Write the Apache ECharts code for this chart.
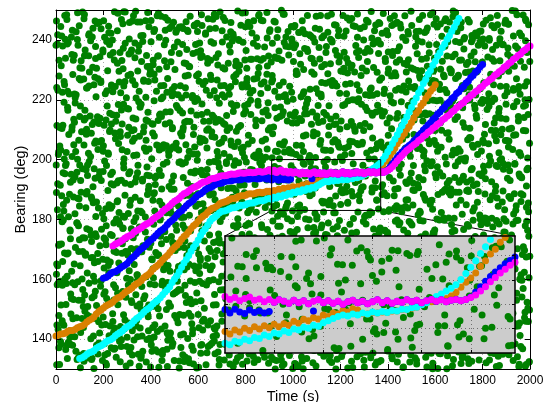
<!DOCTYPE html>
<html><head><meta charset="utf-8">
<script src="https://cdn.jsdelivr.net/npm/echarts@6/dist/echarts.min.js"></script>
<style>html,body{margin:0;padding:0;background:#fff}#c{width:546px;height:402px}</style>
</head><body><div id="c"></div>
<script>
// ---- tick labels / annotation values ----
const xTicks=[0,200,400,600,800,1000,1200,1400,1600,1800,2000];
const yTicks=[140,160,180,200,220,240];
const insetXTicks=[1000,1100,1200,1300,1400];
const insetYTicks=[190,195,200,205];
const zoomBoxX=[910,1370];
const zoomBoxY=[183,200];
const insetX=[900,1490];
const insetY=[185,209];

// ---- track sample times (s) ----
const tA=[0,10,20,30,40,50,60,70,80,90,100,110,120,130,140,150,160,170,180,190,200,210,220,230,240,250,260,270,280,290,300,310,320,330,340,350,360,370,380,390,400,410,420,430,440,450,460,470,480,490,500,510,520,530,540,550,560,570,580,590,600,610,620,630,640,650,660,670,680,690,700,710,720,730,740,750,760,770,780,790,800,810,820,830,840,850,860,870,880,890];
const tB=[900,910,920,930,940,950,960,970,980,990,1000,1010,1020,1030,1040,1050,1060,1070,1080,1090,1100,1110,1120,1130,1140,1150,1160,1170,1180,1190,1200,1210,1220,1230,1240,1250,1260,1270,1280,1290,1300,1310,1320,1330,1340,1350,1360,1370,1380,1390,1400,1410,1420,1430,1440,1450,1460,1470,1480,1490];
const tC=[1500,1510,1520,1530,1540,1550,1560,1570,1580,1590,1600,1610,1620,1630,1640,1650,1660,1670,1680,1690,1700,1710,1720,1730,1740,1750,1760,1770,1780,1790,1800,1810,1820,1830,1840,1850,1860,1870,1880,1890,1900,1910,1920,1930,1940,1950,1960,1970,1980,1990,2000];

// ---- track bearings (deg), aligned with tA / tB / tC ----
const orangeA=[141.0,141.4,141.7,141.8,142.0,142.6,142.9,142.9,143.2,143.8,144.1,144.4,144.9,145.7,146.3,146.7,147.4,148.4,149.2,149.7,150.4,151.1,151.5,151.9,152.4,153.2,153.8,154.1,154.7,155.5,156.1,156.5,157.1,157.9,158.5,158.9,159.6,160.5,161.1,161.6,162.4,163.4,164.1,164.7,165.5,166.5,167.3,167.9,168.9,169.9,170.7,171.4,172.3,173.4,174.3,175.0,175.9,177.0,177.9,178.5,179.4,180.4,181.1,181.6,182.4,183.2,183.7,184.0,184.5,185.2,185.6,185.8,186.1,186.6,186.9,187.0,187.2,187.7,187.9,187.9,188.1,188.5,188.6,188.5,188.7,189.0,189.1,188.9,189.1,189.4];
const orangeB=[189.4,188.9,189.7,189.3,190.1,189.6,190.4,189.9,190.6,190.2,190.9,190.4,191.0,190.7,191.5,191.1,191.9,191.6,192.3,192.0,192.8,192.5,193.2,193.0,193.7,193.4,194.1,193.8,193.1,193.0,193.3,193.2,193.4,193.3,193.6,193.6,193.9,193.9,194.2,194.4,195.0,195.3,195.5,195.7,195.9,196.2,196.7,197.4,198.5,199.5,200.4,201.4,202.8,203.9,205.3,206.3,207.7,208.7,210.1,211.1];
const orangeC=[212.4,213.8,215.4,216.4,218.0,218.9,220.4,221.5,222.8,223.8,225.0];

const cyanA=[null,null,null,null,null,null,null,null,null,null,133.5,133.8,134.3,134.9,135.4,135.7,136.1,136.9,137.4,137.8,138.3,139.0,139.5,139.8,140.3,141.1,141.7,142.1,142.7,143.5,144.1,144.5,145.2,146.1,146.9,147.4,148.1,149.0,149.7,150.2,150.9,151.8,152.5,153.1,153.8,154.8,155.7,156.5,157.5,158.9,160.1,161.2,162.5,164.0,165.4,166.6,167.9,169.4,170.7,171.8,173.1,174.6,175.9,176.9,178.1,179.4,180.3,180.8,181.5,182.2,182.7,182.8,183.1,183.5,183.8,183.9,184.1,184.5,184.7,184.7,184.9,185.3,185.5,185.5,185.7,186.1,186.2,186.2,186.4,186.8];
const cyanB=[187.0,186.7,187.4,187.2,187.8,187.5,188.2,188.0,188.7,188.4,189.1,188.9,189.5,189.2,189.9,189.7,190.3,190.1,190.7,190.5,191.2,191.6,192.1,192.5,192.8,192.6,193.0,192.8,193.2,193.0,193.4,193.2,193.5,193.3,193.7,193.6,194.0,193.9,194.3,194.4,194.9,195.3,195.9,196.6,197.1,197.7,198.3,199.0,200.1,201.3,202.6,203.9,205.4,206.8,208.3,209.8,211.3,212.8,214.3,215.9];
const cyanC=[217.5,219.2,220.6,222.3,223.6,225.4,226.8,228.5,229.8,231.5,232.9,234.5,235.7,237.4,238.6,240.2,241.4,242.9,244.2,245.8,247.2];

const blueA=[null,null,null,null,null,null,null,null,null,null,null,null,null,null,null,null,null,null,null,null,160.3,160.6,161.1,161.8,162.3,162.5,163.0,163.7,164.3,164.7,165.3,166.3,167.1,167.7,168.5,169.5,170.2,170.8,171.5,172.4,173.1,173.7,174.5,175.4,176.1,176.6,177.3,178.3,179.1,179.7,180.5,181.5,182.4,182.9,183.7,184.6,185.3,185.8,186.5,187.4,188.2,188.6,189.2,189.9,190.4,190.6,191.0,191.6,191.9,192.0,192.2,192.6,192.8,192.8,192.9,193.2,193.3,193.2,193.3,193.6,193.6,193.4,193.5,193.8,193.7,193.5,193.6,193.9,193.8,193.4];
const blueB=[193.9,193.2,194.0,193.4,193.1,193.8,193.3,193.6,193.2,193.5,195.4,195.9,195.6,195.2,195.8,195.3,195.7,195.1,193.6,195.9,195.3,195.7,195.2,195.6,195.0,195.5,195.8,195.3,195.6,195.1,195.5,195.9,195.3,195.7,195.2,195.6,195.4,195.9,195.5,195.8,195.3,195.7,196.0,195.6,195.9,195.5,195.8,196.0,195.7,196.0,196.5,197.5,198.6,199.7,200.7,201.6,202.5,203.3,204.0,204.7];
const blueC=[205.3,206.3,207.0,208.1,208.8,209.9,210.6,211.6,212.3,213.4,214.1,215.2,215.9,216.9,217.6,218.7,219.3,220.4,221.0,222.1,222.7,223.8,224.5,225.6,226.3,227.4,228.1,229.2,229.9,231.0,231.8];

const magentaA=[null,null,null,null,null,null,null,null,null,null,null,null,null,null,null,null,null,null,null,null,null,null,null,null,171.1,171.7,172.1,172.5,173.0,173.7,174.2,174.5,175.0,175.8,176.3,176.7,177.2,177.9,178.4,178.8,179.3,180.1,180.7,181.2,181.8,182.7,183.4,183.9,184.6,185.4,186.1,186.5,187.1,187.9,188.6,188.9,189.5,190.2,190.7,191.0,191.4,192.0,192.4,192.6,192.9,193.4,193.7,193.8,194.0,194.4,194.6,194.6,194.7,195.0,195.2,195.1,195.2,195.5,195.6,195.4,195.5,195.8,195.8,195.6,195.7,196.0,196.0,195.8,195.9,196.2];
const magentaB=[196.6,196.0,196.4,195.7,196.2,196.5,195.8,196.1,195.5,196.0,195.4,195.9,195.6,195.2,195.8,195.3,195.7,195.1,195.6,195.9,195.3,195.7,195.2,195.6,195.0,195.5,195.8,195.3,195.6,195.1,195.5,195.9,195.3,195.7,195.2,195.6,195.4,195.9,195.5,195.8,195.3,195.7,196.0,195.6,195.9,195.5,195.8,196.0,195.7,196.0,196.4,196.9,197.7,198.6,199.6,200.5,201.4,202.2,203.0,203.6];
const magentaC=[204.3,205.0,205.5,206.4,206.9,207.8,208.3,209.1,209.6,210.5,211.0,211.8,212.3,213.2,213.7,214.5,215.0,215.9,216.4,217.3,217.8,218.6,219.1,220.0,220.5,221.3,221.8,222.7,223.2,224.0,224.5,225.4,225.9,226.7,227.2,228.1,228.6,229.4,229.9,230.8,231.3,232.1,232.6,233.5,234.0,234.8,235.3,236.2,236.7,237.5,238.0];

// ---- clutter detections: flat list of (time s, bearing deg) pairs ----
const clutterXY=[
3,131.4,15,131.5,19,139.2,41,136.5,48,133.5,52,138.9,70,137.9,89,133.2,94,133.8,101,134.6,118,132.6,135,134.3,139,133.8,150,133.2,171,137.9,177,135.0,196,132.8,204,138.4,210,131.9,233,137.1,249,136.9,254,133.9,268,139.3,275,137.5,296,131.0,310,135.8,313,132.0,329,139.7,347,134.9,360,134.4,366,135.9,381,132.3,399,130.7,402,138.1,420,136.4,434,130.6,447,132.8,451,136.2,470,130.8,486,139.9,493,138.6,499,132.8,520,130.3,535,134.8,541,132.5,559,133.4,563,132.1,580,131.7,602,130.6,611,137.9,615,138.2,633,131.4,650,138.0,658,138.6,671,135.1,689,133.2,692,138.2,710,133.0,727,136.6,731,134.7,748,130.9,766,133.8,779,134.4,783,136.0,801,139.5,815,135.0,830,135.8,836,132.2,852,133.1,871,137.2,874,135.3,890,135.9,909,134.0,915,138.1,930,132.8,948,134.8,955,131.1,962,131.7,985,134.5,999,130.2,1004,138.4,1022,131.0,1039,132.7,1043,130.1,1061,139.3,1078,138.5,1084,132.1,1097,131.0,1115,135.5,1120,135.9,1140,136.4,1157,134.6,1163,132.2,1172,139.4,1190,138.9,1209,135.4,1214,139.3,1231,130.3,1240,138.1,1262,139.6,1270,134.1,1285,135.1,1299,132.9,1305,135.6,1326,135.3,1338,139.8,1344,139.7,1361,132.3,1379,138.3,1385,136.4,1400,136.2,1419,133.4,1426,138.3,1440,132.3,1459,139.7,1464,130.5,1478,138.2,1497,134.8,1503,139.1,1522,131.7,1536,139.6,1541,139.3,1560,133.9,1571,135.7,1589,130.1,1597,138.5,1611,130.2,1630,137.9,1637,139.4,1652,134.4,1670,139.5,1677,133.2,1690,137.0,1709,131.8,1716,134.6,1733,136.0,1750,138.2,1754,132.6,1772,138.0,1788,139.9,1793,136.8,1810,138.2,1829,133.0,1835,138.4,1848,135.2,1866,134.3,1871,131.2,1890,137.1,1904,136.0,1913,139.7,1929,132.8,1947,134.1,1953,130.8,1969,136.8,1984,131.5,1996,132.3,
9,143.2,12,147.9,30,145.0,58,142.8,63,148.4,66,141.9,87,147.1,110,146.9,116,143.9,122,149.3,145,147.5,158,141.0,180,145.8,184,142.0,187,149.7,209,144.9,228,144.4,240,145.9,243,142.3,267,140.7,285,148.1,291,146.4,300,140.6,322,142.8,340,146.2,344,140.8,359,149.9,386,148.6,390,142.8,395,140.3,417,144.8,428,142.5,444,143.4,469,142.1,472,141.7,478,140.6,501,147.9,522,148.2,526,141.4,538,148.0,560,148.6,573,145.1,577,143.2,600,148.2,619,143.0,624,146.6,641,144.7,663,140.9,667,143.8,679,144.4,700,146.0,718,149.5,731,145.0,735,145.8,760,142.2,777,143.1,781,147.2,797,145.3,818,145.9,823,144.0,840,148.1,858,142.8,872,144.8,876,141.1,899,141.7,913,144.5,917,140.2,939,148.4,956,141.0,969,142.7,973,140.1,992,149.3,1015,148.5,1019,142.1,1035,141.0,1054,145.5,1066,145.9,1070,146.4,1091,144.6,1108,142.2,1125,149.4,1129,148.9,1148,145.4,1167,149.3,1171,140.3,1189,148.1,1206,149.6,1221,141.4,1226,141.5,1248,149.2,1264,146.5,1268,143.5,1288,148.9,1302,147.9,1318,143.2,1323,143.8,1345,144.6,1360,142.6,1365,144.3,1383,143.8,1404,149.8,1409,149.7,1425,142.3,1441,148.3,1456,146.4,1460,146.2,1482,143.4,1499,148.3,1504,142.3,1521,149.7,1540,140.5,1553,148.2,1557,144.8,1579,149.1,1594,141.7,1600,149.6,1619,149.3,1634,143.9,1648,145.7,1652,140.1,1674,148.5,1691,140.2,1696,147.9,1712,149.4,1731,144.4,1744,149.5,1749,143.2,1768,147.0,1783,141.8,1790,144.6,1808,146.0,1826,148.2,1840,142.6,1844,148.0,1865,149.9,1880,146.8,1887,148.2,1903,143.0,1920,148.4,1935,145.2,1939,144.3,1958,141.2,1977,147.1,1982,146.0,1998,149.7,
5,158.2,21,151.4,27,158.0,44,158.6,62,155.1,74,153.2,79,158.2,96,153.0,113,156.6,121,154.7,134,150.9,152,153.8,161,154.4,166,156.0,190,159.5,202,155.0,207,155.8,225,152.2,244,153.1,251,157.2,260,155.3,281,155.9,295,154.0,305,158.1,318,152.8,337,154.8,342,151.1,354,151.7,375,154.5,383,150.2,397,158.4,411,151.0,425,152.7,431,150.1,449,159.3,462,158.5,476,152.1,483,151.0,503,155.5,510,155.9,527,156.4,546,154.6,550,152.2,567,159.4,586,158.9,594,155.4,606,159.3,626,150.3,635,158.1,645,159.6,664,151.4,676,151.5,687,159.2,705,156.5,716,153.5,724,158.9,743,157.9,755,153.2,770,153.8,778,154.6,798,152.6,806,154.3,821,153.8,841,153.2,847,157.9,862,155.0,880,152.8,888,158.4,904,151.9,921,157.1,929,156.9,946,153.9,960,159.3,972,157.5,980,151.0,998,155.8,1009,152.0,1027,159.7,1038,154.9,1050,154.4,1063,155.9,1080,152.3,1088,150.7,1104,158.1,1123,156.4,1133,150.6,1144,152.8,1160,156.2,1176,150.8,1183,159.9,1203,158.6,1217,152.8,1229,150.3,1237,154.8,1256,152.5,1273,153.4,1280,152.1,1297,151.7,1313,150.6,1320,157.9,1339,159.6,1352,159.3,1367,153.9,1375,155.7,1394,150.1,1407,158.5,1422,150.2,1431,157.9,1448,159.4,1466,154.4,1475,159.5,1488,153.2,1507,157.0,1515,151.8,1532,154.6,1546,156.0,1561,158.2,1568,152.6,1586,158.0,1605,159.9,1615,156.8,1627,158.2,1645,153.0,1655,158.4,1667,155.2,1686,154.3,1699,151.2,1707,157.1,1723,156.0,1740,159.7,1747,152.8,1763,154.1,1779,150.8,1795,156.8,1801,151.5,1821,152.3,1831,152.8,1846,150.3,1861,156.6,1875,157.4,1884,154.1,1902,155.1,1915,152.9,1926,155.6,1944,155.3,1960,159.8,1966,159.7,1988,152.3,
2,161.7,7,164.5,38,160.2,46,168.4,47,161.0,66,162.7,110,160.1,113,169.3,125,168.5,132,162.1,158,161.0,162,165.5,177,165.9,215,166.4,221,164.6,223,162.2,245,169.4,256,168.9,265,165.4,294,169.3,298,160.3,303,168.1,334,169.6,342,161.4,343,161.5,362,169.2,406,166.5,409,163.5,421,168.9,428,167.9,454,163.2,458,163.8,473,164.6,511,162.6,517,164.3,519,163.8,541,163.2,552,167.9,561,165.0,590,162.8,602,168.4,606,161.9,609,167.1,640,166.9,652,163.9,653,169.3,671,167.5,699,161.0,705,165.8,722,162.0,729,169.7,748,164.9,790,164.4,793,165.9,798,162.3,826,160.7,834,168.1,835,166.4,861,160.6,874,162.8,883,166.2,919,160.8,925,169.9,941,168.6,944,162.8,977,160.3,990,164.8,996,162.5,1001,163.4,1043,162.1,1048,161.7,1061,160.6,1063,167.9,1080,168.2,1109,161.4,1117,168.0,1124,168.6,1136,165.1,1168,163.2,1171,168.2,1195,163.0,1201,166.6,1213,164.7,1251,160.9,1257,163.8,1259,164.4,1283,166.0,1294,169.5,1302,165.0,1331,165.8,1335,162.2,1342,163.1,1375,167.2,1384,165.3,1385,165.9,1404,164.0,1448,168.1,1451,162.8,1463,164.8,1470,161.1,1496,166.8,1500,168.2,1515,163.0,1553,168.4,1559,165.2,1561,164.3,1583,161.2,1594,167.1,1603,166.0,1632,169.7,1636,162.8,1641,164.1,1672,160.8,1680,166.8,1681,161.5,1700,162.3,1744,162.8,1747,160.3,1759,166.6,1766,167.4,1792,164.1,1796,165.1,1811,162.9,1849,165.6,1855,165.3,1857,169.8,1879,169.7,1890,162.3,1899,168.3,1928,166.4,1932,166.2,1937,163.4,1968,168.3,1976,162.3,1977,169.7,1996,160.5,
11,171.4,14,171.5,26,179.2,59,176.5,61,173.5,88,178.9,95,177.9,99,173.2,121,173.8,148,174.6,150,172.6,170,174.3,203,173.8,209,173.2,212,177.9,230,175.0,262,172.8,269,178.4,280,171.9,283,177.1,318,176.9,326,173.9,329,179.3,352,177.5,373,171.0,377,175.8,400,172.0,406,179.7,438,174.9,441,174.4,459,175.9,493,172.3,497,170.7,505,178.1,509,176.4,540,170.6,544,172.8,568,176.2,591,170.8,600,179.9,603,178.6,626,172.8,646,170.3,648,174.8,677,172.5,688,173.4,691,172.1,714,171.7,744,170.6,749,177.9,768,178.2,770,171.4,801,178.0,812,178.6,816,175.1,837,173.2,867,178.2,868,173.0,892,176.6,903,174.7,934,170.9,936,173.8,955,174.4,988,176.0,994,179.5,1003,175.0,1006,175.8,1040,172.2,1042,173.1,1063,177.2,1087,175.3,1096,175.9,1099,174.0,1122,178.1,1142,172.8,1144,174.8,1173,171.1,1184,171.7,1187,174.5,1210,170.2,1240,178.4,1245,171.0,1264,172.7,1266,170.1,1297,179.3,1308,178.5,1312,172.1,1333,171.0,1363,175.5,1364,175.9,1388,176.4,1399,174.6,1430,172.2,1432,179.4,1451,178.9,1484,175.4,1490,179.3,1499,170.3,1502,178.1,1536,179.6,1538,174.1,1559,175.1,1583,172.9,1592,175.6,1595,175.3,1618,179.8,1638,179.7,1640,172.3,1669,178.3,1680,176.4,1683,176.2,1706,173.4,1736,178.3,1741,172.3,1760,179.7,1762,170.5,1793,178.2,1804,174.8,1808,179.1,1829,171.7,1859,179.6,1860,179.3,1884,173.9,1895,175.7,1926,170.1,1928,178.5,1947,170.2,1980,177.9,1986,179.4,1995,174.4,
6,183.2,24,187.9,31,185.0,33,182.8,57,188.4,80,181.9,92,187.1,97,186.9,126,183.9,131,189.3,149,187.5,168,181.0,171,185.8,196,182.0,219,189.7,224,184.9,236,184.4,258,185.9,266,182.3,289,180.7,291,188.1,315,186.4,337,180.6,345,182.8,356,186.2,377,180.8,390,189.9,412,188.6,417,182.8,440,180.3,447,184.8,470,182.5,482,183.4,486,182.1,511,181.7,529,180.6,540,187.9,557,188.2,563,181.4,588,188.0,599,188.6,602,185.1,628,183.2,649,188.2,655,183.0,671,186.6,694,184.7,701,180.9,718,183.8,724,184.4,746,186.0,760,189.5,781,185.0,785,185.8,809,182.2,816,183.1,842,187.2,851,185.3,858,185.9,883,184.0,899,188.1,911,182.8,931,184.8,935,181.1,960,181.7,972,184.5,977,180.2,1005,188.4,1019,181.0,1028,182.7,1053,180.1,1056,189.3,1081,188.5,1093,182.1,1101,181.0,1127,185.5,1132,185.9,1156,186.4,1170,184.6,1178,182.2,1202,189.4,1209,188.9,1231,185.4,1247,189.3,1255,180.3,1278,188.1,1286,189.6,1307,181.4,1320,181.5,1333,189.2,1353,186.5,1361,183.5,1385,188.9,1397,187.9,1406,183.2,1429,183.8,1437,184.6,1459,182.6,1474,184.3,1484,183.8,1506,189.8,1512,189.7,1537,182.3,1550,188.3,1560,186.4,1582,186.2,1589,183.4,1612,188.3,1626,182.3,1638,189.7,1657,180.5,1665,188.2,1689,184.8,1701,189.1,1714,181.7,1733,189.6,1741,189.3,1765,183.9,1778,185.7,1790,180.1,1810,188.5,1817,180.2,1841,187.9,1854,189.4,1866,184.4,1886,189.5,1893,183.2,1918,187.0,1931,181.8,1942,184.6,1962,186.0,1970,188.2,1994,182.6,
1,198.2,18,191.4,40,198.0,43,198.6,64,195.1,72,193.2,100,198.2,104,193.0,127,196.6,133,194.7,156,190.9,165,193.8,181,194.4,199,196.0,205,199.5,231,195.0,238,195.8,257,192.2,276,193.1,286,197.2,307,195.3,312,195.9,339,194.0,346,198.1,365,192.8,384,194.8,392,191.1,419,191.7,423,194.5,446,190.2,453,198.4,477,191.0,489,192.7,498,190.1,524,199.3,533,198.5,555,192.1,573,191.0,584,195.5,607,195.9,613,196.4,637,194.6,644,192.2,667,199.4,684,198.9,696,195.4,719,199.3,725,190.3,751,198.1,756,199.6,776,191.4,794,191.5,803,199.2,830,196.5,838,193.5,860,198.9,867,197.9,889,193.2,907,193.8,922,194.6,940,192.6,950,194.3,969,193.8,987,193.2,992,197.9,1018,195.0,1025,192.8,1047,198.4,1057,191.9,1077,197.1,1095,196.9,1111,193.9,1131,199.3,1137,197.5,1155,191.0,1180,195.8,1188,192.0,1208,199.7,1223,194.9,1236,194.4,1259,195.9,1263,192.3,1290,190.7,1295,198.1,1316,196.4,1334,190.6,1347,192.8,1368,196.2,1373,190.8,1398,199.9,1413,198.6,1423,192.8,1443,190.3,1453,194.8,1476,192.5,1493,193.4,1508,192.1,1526,191.7,1530,190.6,1555,197.9,1565,199.6,1587,199.3,1604,193.9,1619,195.7,1643,190.1,1647,198.5,1666,190.2,1685,197.9,1697,199.4,1719,194.4,1726,199.5,1752,193.2,1756,197.0,1776,191.8,1796,194.6,1806,196.0,1827,198.2,1838,192.6,1857,198.0,1874,199.9,1888,196.8,1908,198.2,1916,193.0,1936,198.4,1954,195.2,1963,194.3,1985,191.2,1991,197.1,
10,201.7,16,204.5,35,200.2,54,208.4,68,201.0,83,202.7,91,200.1,108,209.3,128,208.5,137,202.1,146,201.0,163,205.5,179,205.9,192,206.4,200,204.6,220,202.2,226,209.4,248,208.9,264,205.4,271,209.3,287,200.3,302,208.1,320,209.6,328,201.4,341,201.5,369,209.2,380,206.5,393,203.5,408,208.9,415,207.9,436,203.2,450,203.8,466,204.6,475,202.6,494,204.3,507,203.8,518,203.2,531,207.9,548,205.0,562,202.8,580,208.4,596,201.9,608,207.1,620,206.9,637,203.9,657,209.3,670,207.5,684,201.0,698,205.8,709,202.0,722,209.7,740,204.9,753,204.4,768,205.9,787,202.3,795,200.7,812,208.1,828,206.4,845,200.6,856,202.8,870,206.2,885,200.8,896,209.9,914,208.6,926,202.8,943,200.3,958,204.8,964,202.5,983,203.4,997,202.1,1013,201.7,1030,200.6,1044,207.9,1055,208.2,1070,201.4,1086,208.0,1102,208.6,1114,205.1,1129,203.2,1150,208.2,1159,203.0,1177,206.6,1192,204.7,1200,200.9,1219,203.8,1234,204.4,1252,206.0,1262,209.5,1276,205.0,1293,205.8,1311,202.2,1329,203.1,1336,207.2,1356,205.3,1371,205.9,1380,204.0,1402,208.1,1418,202.8,1428,204.8,1445,201.1,1462,206.8,1479,208.2,1492,203.0,1510,208.4,1519,205.2,1534,204.3,1551,201.2,1566,207.1,1579,206.0,1599,209.7,1610,202.8,1625,204.1,1642,200.8,1659,206.8,1671,201.5,1688,202.3,1705,202.8,1718,200.3,1737,206.6,1745,207.4,1761,204.1,1780,205.1,1795,202.9,1806,205.6,1825,205.3,1837,209.8,1856,209.7,1869,202.3,1877,208.3,1896,206.4,1911,206.2,1927,203.4,1940,208.3,1957,202.3,1972,209.7,1990,200.5,
4,211.4,29,211.5,34,219.2,50,216.5,75,213.5,81,218.9,103,217.9,119,213.2,124,213.8,144,214.6,160,212.6,175,214.3,186,213.8,211,213.2,216,217.9,239,215.0,252,212.8,263,218.4,279,211.9,301,217.1,306,216.9,325,213.9,349,219.3,355,217.5,371,211.0,388,215.8,405,212.0,414,219.7,437,214.9,445,214.4,463,215.9,480,212.3,491,210.7,508,218.1,523,216.4,537,210.6,552,212.8,570,216.2,582,210.8,598,219.9,616,218.6,623,212.8,643,210.3,660,214.8,674,212.5,686,213.4,707,212.1,713,211.7,733,210.6,750,217.9,763,218.2,779,211.4,796,218.0,810,218.6,822,215.1,843,213.2,853,218.2,869,213.0,887,216.6,895,214.7,918,210.9,932,213.8,945,214.4,959,216.0,976,219.5,988,215.0,1010,215.8,1016,212.2,1036,213.1,1052,217.2,1060,215.3,1082,215.9,1099,214.0,1106,218.1,1126,212.8,1141,214.8,1152,211.1,1174,211.7,1181,214.5,1198,210.2,1218,218.4,1228,211.0,1246,212.7,1261,210.1,1275,219.3,1289,218.5,1304,212.1,1324,211.0,1332,215.5,1350,215.9,1370,216.4,1377,214.6,1397,212.2,1414,219.4,1424,218.9,1442,215.4,1457,219.3,1471,210.3,1486,218.1,1505,219.6,1511,214.1,1531,215.1,1548,212.9,1558,215.6,1576,215.3,1592,219.8,1607,219.7,1622,212.3,1639,218.3,1650,216.4,1673,216.2,1684,213.4,1702,218.3,1717,212.3,1730,219.7,1746,210.5,1766,218.2,1773,214.8,1792,219.1,1812,211.7,1820,219.6,1839,219.3,1855,213.9,1868,215.7,1883,210.1,1899,218.5,1912,210.2,1932,217.9,1945,219.4,1951,214.4,1975,214.1,1992,215.1,
8,223.2,13,227.9,36,225.0,49,222.8,71,228.4,78,221.9,98,227.1,117,226.9,129,223.9,141,229.3,164,227.5,169,221.0,189,225.8,208,222.0,218,229.7,234,224.9,250,224.4,267,225.9,273,222.3,297,220.7,304,228.1,323,226.4,338,220.6,351,222.8,370,226.2,379,220.8,398,229.9,414,228.6,424,222.8,444,220.3,455,224.8,468,222.5,490,223.4,496,222.1,515,221.7,530,220.6,545,227.9,558,228.2,576,221.4,593,228.0,601,228.6,621,225.1,634,223.2,652,228.2,668,223.0,680,226.6,695,224.7,711,220.9,728,223.8,737,224.4,757,226.0,772,229.5,784,225.0,804,225.8,819,222.2,831,223.1,848,227.2,866,225.3,878,225.9,893,224.0,912,228.1,923,222.8,942,224.8,957,221.1,967,221.7,986,224.5,1000,220.2,1014,228.4,1034,221.0,1046,222.7,1062,220.1,1079,229.3,1089,228.5,1107,222.1,1119,221.0,1138,225.5,1153,225.9,1166,226.4,1185,224.6,1197,222.2,1215,229.4,1230,228.9,1242,225.4,1260,229.3,1277,220.3,1287,228.1,1310,229.6,1322,221.4,1337,221.5,1355,229.2,1366,226.5,1386,223.5,1401,228.9,1416,227.9,1433,223.2,1446,223.8,1468,224.6,1477,222.6,1494,224.3,1513,223.8,1525,229.8,1543,229.7,1556,222.3,1572,228.3,1591,226.4,1601,226.2,1620,223.4,1635,228.3,1649,222.3,1668,229.7,1679,220.5,1698,228.2,1715,224.8,1728,229.1,1743,221.7,1759,229.6,1775,229.3,1789,223.9,1805,225.7,1822,220.1,1834,228.5,1851,220.2,1867,227.9,1880,229.4,1900,224.4,1910,229.5,1930,223.2,1943,227.0,1958,221.8,1978,224.6,1987,226.0,
0,238.2,22,231.4,28,238.0,47,238.6,67,235.1,73,233.2,93,238.2,106,233.0,123,236.6,138,234.7,155,230.9,167,233.8,185,234.4,198,236.0,214,239.5,229,235.0,241,235.8,259,232.2,278,233.1,284,237.2,308,235.3,316,235.9,333,234.0,350,238.1,361,232.8,382,234.8,394,231.1,410,231.7,429,234.5,435,230.2,457,238.4,467,231.0,485,232.7,502,230.1,513,239.3,534,238.5,549,232.1,564,231.0,578,235.5,595,235.9,610,236.4,617,234.6,640,232.2,654,239.4,665,238.9,685,235.4,702,239.3,712,230.3,732,238.1,744,239.6,758,231.4,775,231.5,789,239.2,802,236.5,820,233.5,833,238.9,850,237.9,864,233.2,875,233.8,897,234.6,908,232.6,924,234.3,939,233.8,953,233.2,970,237.9,982,235.0,1002,232.8,1011,238.4,1032,231.9,1049,237.1,1059,236.9,1076,233.9,1092,239.3,1110,237.5,1121,231.0,1139,235.8,1158,232.0,1164,239.7,1186,234.9,1199,234.4,1216,235.9,1233,232.3,1244,230.7,1265,238.1,1279,236.4,1292,230.6,1314,232.8,1325,236.2,1340,230.8,1359,239.9,1369,238.6,1390,232.8,1403,230.3,1420,234.8,1436,232.5,1450,233.4,1469,232.1,1481,231.7,1500,230.6,1517,237.9,1528,239.6,1545,239.3,1563,233.9,1575,235.7,1596,230.1,1606,238.5,1623,230.2,1641,237.9,1653,239.4,1672,234.4,1686,239.5,1703,233.2,1721,237.0,1732,231.8,1751,234.6,1764,236.0,1782,238.2,1799,232.6,1809,238.0,1828,239.9,1842,236.8,1858,238.2,1873,233.0,1885,238.4,1906,235.2,1919,234.3,1934,231.2,1948,237.1,1965,236.0,1981,239.7,1999,232.8,
7,241.7,20,244.5,39,240.2,45,248.4,65,241.0,85,242.7,90,240.1,112,249.3,120,248.5,140,242.1,153,241.0,174,245.5,183,245.9,201,246.4,222,244.6,232,242.2,247,249.4,261,248.9,282,245.4,292,249.3,309,240.3,327,248.1,336,249.6,358,241.4,367,241.5,387,249.2,401,246.5,416,243.5,432,248.9,443,247.9,461,243.2,479,243.8,488,244.6,506,242.6,521,244.3,536,243.8,554,243.2,566,247.9,585,245.0,597,242.8,614,248.4,631,241.9,642,247.1,662,246.9,673,243.9,692,249.3,706,247.5,720,241.0,738,245.8,747,242.0,767,249.7,780,244.9,799,244.4,811,245.9,827,242.3,846,240.7,855,248.1,873,246.4,891,240.6,901,242.8,920,246.2,933,240.8,951,249.9,963,248.6,979,242.8,995,240.3,1008,244.8,1024,242.5,1041,243.4,1051,242.1,1069,241.7,1085,240.6,1098,247.9,1116,248.2,1130,241.4,1146,248.0,1162,248.6,1175,245.1,1193,243.2,1211,248.2,1224,243.0,1239,246.6,1254,244.7,1272,240.9,1284,243.8,1301,244.4,1317,246.0,1330,249.5,1349,245.0,1362,245.8,1376,242.2,1395,243.1,1410,247.2,1427,245.3,1439,245.9,1455,244.0,1472,248.1,1485,242.8,1501,244.8,1518,241.1,1533,246.8,1547,248.2,1562,243.0,1580,248.4,1595,245.2,1609,244.3,1628,241.2,1644,247.1,1660,246.0,1676,249.7,1692,242.8,1708,244.1,1724,240.8,1738,246.8,1755,241.5,1770,242.3,1786,242.8,1802,240.3,1815,246.6,1833,247.4,1849,244.1,1863,245.1,1878,242.9,1894,245.6,1909,245.3,1925,249.8,1938,249.7,1956,242.3,1971,248.3,1983,246.4,
12,137.1,21,138.2,47,138.1,55,138.2,58,138.4,84,135.9,103,130.4,117,135.2,121,133.5,152,133.6,160,130.2,181,138.7,206,134.7,213,131.3,218,135.2,245,136.6,271,132.4,276,139.7,299,137.5,316,137.2,322,134.7,351,130.9,358,133.6,384,139.9,400,139.9,405,135.9,431,135.7,449,134.9,468,136.6,472,139.6,490,137.6,521,132.7,527,137.2,545,134.0,573,137.6,579,136.3,594,130.3,611,135.3,637,135.4,642,137.5,668,139.4,684,135.7,688,131.3,715,138.2,734,131.7,741,138.5,759,132.5,787,131.6,792,136.4,806,132.7,833,134.2,852,137.4,857,136.6,880,133.9,897,131.9,918,133.2,925,130.0,951,133.0,960,135.9,987,139.2,1007,131.8,1011,131.7,1036,134.1,1058,133.5,1064,139.6,1089,136.2,1103,139.0,1130,134.3,1136,135.7,1154,132.9,1181,130.0,1186,133.3,1205,134.2,1224,139.5,1247,132.6,1252,130.5,1279,139.5,1296,136.3,1301,130.7,1328,133.8,1347,131.3,1353,132.3,1371,132.8,1396,136.2,1412,137.9,1417,134.3,1445,134.9,1466,130.7,1470,136.3,1493,132.3,1515,133.8,1521,132.9,1548,138.8,1565,130.7,1583,135.3,1590,131.9,1617,135.2,1622,135.1,1649,130.1,1668,139.0,1673,131.1,1699,135.7,1714,133.8,1738,133.4,1742,131.8,1767,137.9,1785,133.0,1793,137.0,1815,132.1,1834,135.4,1858,130.8,1863,139.1,1885,134.9,1902,139.3,1911,134.8,1937,138.4,1955,131.6,1961,137.5,1980,130.9,1997,132.4,
4,144.7,26,146.1,33,144.6,59,140.6,71,146.8,79,140.8,104,142.2,126,146.4,133,148.0,147,140.1,170,146.8,193,144.7,199,147.4,224,141.1,239,148.5,247,143.7,272,144.2,288,143.4,306,145.4,311,144.2,338,144.4,355,143.7,363,141.0,389,147.5,408,143.9,414,140.7,437,147.7,460,144.4,466,149.9,483,142.0,509,146.9,515,145.5,538,141.7,556,140.2,570,147.6,576,141.8,603,143.8,618,146.0,625,146.2,652,146.1,671,143.3,677,141.3,700,148.4,725,145.8,730,143.0,752,140.0,774,147.5,782,142.0,808,144.4,821,149.3,845,143.8,850,142.6,875,145.6,894,140.2,903,149.7,926,146.0,944,146.7,949,143.7,976,141.1,992,143.2,1003,140.0,1027,147.0,1047,149.3,1053,142.8,1075,147.0,1096,149.1,1105,142.7,1123,144.4,1147,143.7,1152,144.7,1178,140.4,1198,147.2,1204,143.0,1227,146.9,1244,146.9,1257,147.7,1276,142.0,1293,149.3,1307,141.0,1329,141.4,1350,141.6,1356,149.2,1380,148.3,1392,146.8,1410,141.9,1433,140.2,1451,145.5,1458,141.5,1481,141.0,1496,148.6,1507,145.7,1530,144.6,1552,143.7,1558,147.2,1580,141.1,1601,141.2,1609,145.2,1631,143.8,1646,149.7,1659,148.4,1680,144.2,1702,145.0,1708,145.6,1729,149.5,1752,143.6,1757,149.6,1780,147.7,1799,140.7,1807,148.5,1832,144.4,1846,149.9,1856,146.9,1879,149.6,1897,147.9,1908,144.6,1928,148.6,1950,144.4,1956,145.4,1979,149.0,1993,145.9,
9,158.7,17,159.3,42,151.6,65,153.6,70,158.8,92,159.2,110,153.0,115,150.9,139,158.7,163,159.3,171,151.2,188,157.7,214,153.6,220,151.7,243,158.2,261,151.5,266,154.2,290,154.9,314,159.9,320,152.2,343,159.5,362,157.6,370,153.5,391,151.4,417,158.2,423,152.0,446,158.2,463,156.9,471,158.9,495,155.1,512,159.3,518,156.6,544,158.0,566,153.3,572,151.8,589,152.5,612,152.8,619,158.6,645,159.3,664,159.8,669,154.9,694,156.4,715,156.5,722,151.0,745,155.8,763,152.0,771,159.3,790,159.2,813,153.9,819,158.2,842,159.4,867,158.8,873,157.9,889,153.3,914,152.0,921,153.6,944,152.5,961,150.9,967,154.4,991,153.1,1016,151.7,1022,153.0,1041,151.2,1063,153.8,1071,151.9,1094,157.0,1115,156.8,1121,154.1,1142,156.1,1166,154.0,1172,153.9,1191,157.0,1213,151.9,1220,158.3,1242,157.6,1265,157.9,1271,153.2,1291,150.6,1316,158.3,1321,152.8,1343,152.3,1364,157.6,1372,154.6,1395,154.8,1414,150.4,1420,152.9,1442,155.3,1463,151.1,1471,158.0,1491,152.3,1513,152.8,1520,157.8,1545,152.5,1563,150.9,1569,158.1,1594,159.4,1613,155.5,1621,158.1,1640,155.3,1665,150.1,1672,157.5,1691,156.7,1716,151.7,1721,153.6,1743,151.3,1762,153.2,1770,150.6,1792,159.8,1814,151.1,1821,152.5,1841,150.9,1865,159.6,1872,151.8,1894,151.8,1914,158.1,1920,155.9,1943,153.0,1966,154.1,1971,156.9,1991,150.3,
3,165.1,28,165.9,36,168.8,51,168.8,77,165.1,96,169.3,102,164.5,124,168.0,148,167.2,155,167.3,176,168.6,197,166.7,203,163.8,229,165.8,249,169.4,257,162.2,279,168.7,302,169.2,309,162.8,330,164.9,352,169.8,357,169.2,380,160.8,404,166.8,411,160.5,433,168.2,452,165.7,458,164.9,481,162.7,503,169.6,510,161.0,530,164.8,553,164.1,561,169.8,583,164.4,604,164.3,609,166.3,632,164.6,651,163.2,659,164.4,680,169.6,706,168.4,711,168.7,733,165.6,755,160.2,760,163.3,784,166.2,803,164.8,811,162.7,832,160.4,857,161.9,862,167.8,884,166.2,905,163.2,912,160.9,934,160.0,955,162.1,962,166.0,983,169.9,1006,160.2,1013,163.5,1033,163.0,1055,164.3,1061,166.9,1084,169.4,1107,161.8,1112,164.9,1134,161.4,1156,166.3,1163,161.4,1185,160.9,1207,163.4,1212,163.1,1233,167.3,1257,168.1,1262,164.3,1284,166.4,1305,160.5,1313,164.6,1334,162.5,1357,163.1,1362,165.2,1385,160.9,1406,166.1,1413,168.3,1434,166.9,1456,160.8,1461,168.8,1485,167.0,1505,167.0,1512,161.6,1533,167.6,1557,168.3,1562,169.6,1584,164.2,1605,164.3,1613,167.8,1635,161.4,1656,160.5,1661,169.2,1684,167.1,1707,164.5,1712,166.3,1734,165.4,1755,169.0,1763,166.1,1785,163.0,1806,163.1,1812,160.7,1835,162.0,1854,168.5,1862,161.0,1884,163.8,1906,163.7,1913,165.0,1933,165.1,1957,160.1,1962,161.5,1984,167.4,1999,167.7,
14,171.7,23,171.8,31,179.8,60,176.1,82,170.6,89,178.7,113,173.9,130,176.9,142,176.5,166,175.2,185,171.2,192,176.7,211,171.5,237,174.6,244,178.8,264,179.5,282,177.0,293,173.5,317,170.3,336,175.4,341,170.2,367,171.2,386,173.4,394,170.7,412,178.4,439,179.8,445,171.9,466,173.3,487,174.3,494,172.1,516,170.6,535,178.1,543,177.0,568,171.2,582,171.0,592,170.5,616,176.2,633,177.8,641,178.0,665,172.3,686,175.1,693,179.3,718,170.3,736,173.2,744,172.4,762,177.4,785,175.0,795,171.5,817,178.5,838,173.9,845,170.4,869,177.3,886,170.4,895,171.9,915,179.5,936,177.7,946,177.7,966,170.9,988,173.5,995,170.3,1018,176.6,1038,170.4,1047,171.6,1068,179.9,1088,177.3,1097,172.9,1119,177.2,1137,175.0,1149,178.8,1169,176.8,1187,177.6,1196,179.6,1217,176.4,1239,170.3,1248,175.5,1268,175.7,1290,170.7,1298,171.6,1318,172.2,1340,176.8,1346,174.4,1368,177.1,1388,176.2,1399,175.6,1420,170.7,1439,179.8,1447,178.2,1467,176.5,1490,171.7,1497,178.7,1518,171.3,1541,174.1,1549,179.5,1570,171.2,1589,174.6,1598,176.5,1619,172.0,1643,171.0,1648,173.0,1671,175.9,1690,172.1,1698,172.3,1720,176.6,1741,177.7,1749,171.9,1769,174.3,1792,172.5,1798,172.7,1820,178.6,1843,177.5,1850,173.9,1870,178.5,1890,175.8,1899,179.4,1922,174.8,1942,179.6,1949,179.7,1972,170.9,1990,176.4,
2,189.0,19,180.9,45,186.4,53,180.9,74,187.5,99,184.5,106,189.1,128,188.5,151,186.9,157,185.6,179,183.8,202,180.2,210,183.6,231,183.7,255,180.1,260,186.2,283,181.1,305,182.0,312,184.7,334,187.4,357,182.7,363,182.2,386,188.3,409,186.4,415,188.9,437,186.1,460,183.4,466,182.2,489,185.1,511,186.4,517,184.5,540,180.7,562,188.1,568,188.2,590,184.4,614,182.3,620,185.2,641,189.4,664,188.6,671,183.6,692,183.7,716,182.1,721,184.1,744,187.4,767,180.2,773,183.8,795,188.9,818,183.4,824,184.1,845,182.4,868,187.9,875,186.3,896,185.7,919,184.3,926,187.0,947,182.6,969,183.7,977,185.5,998,182.9,1020,184.4,1028,184.8,1049,183.3,1071,187.9,1078,189.8,1100,180.1,1122,186.1,1129,182.5,1150,184.9,1172,182.2,1180,187.8,1201,185.0,1223,189.2,1231,185.7,1252,187.8,1274,182.5,1281,186.2,1302,180.9,1325,182.6,1332,182.2,1354,186.4,1376,188.3,1382,182.6,1404,182.7,1427,187.9,1433,183.3,1455,183.8,1477,186.5,1484,186.6,1506,184.8,1528,181.6,1535,182.7,1556,187.2,1579,185.1,1586,186.4,1607,180.1,1629,189.1,1636,180.5,1658,189.0,1680,180.4,1687,189.1,1708,186.4,1731,184.9,1738,189.8,1759,182.8,1782,189.3,1788,181.5,1810,180.5,1832,186.6,1839,180.4,1861,187.2,1883,185.8,1890,180.2,1911,187.7,1934,188.6,1940,183.1,1962,188.6,1985,184.1,1993,185.5,
7,191.9,30,195.6,38,195.3,61,192.4,80,194.2,88,195.8,112,196.9,133,198.2,140,199.4,161,196.9,184,195.9,191,193.0,213,198.0,233,191.9,242,191.5,263,192.9,285,198.7,292,192.1,315,191.7,334,192.5,344,195.6,365,193.4,384,197.5,395,194.6,418,193.9,436,196.4,444,194.7,468,199.1,486,190.1,496,194.5,519,199.0,537,194.0,546,199.0,569,195.8,588,196.2,596,199.8,618,194.9,638,196.7,647,199.1,670,192.8,689,197.4,697,190.6,719,198.7,740,190.5,749,190.4,771,198.9,790,195.8,798,195.8,821,196.7,840,191.7,849,194.7,872,199.8,891,195.4,899,196.6,922,197.7,942,197.0,950,195.7,972,193.2,993,190.5,1001,196.8,1024,191.2,1043,198.8,1051,194.5,1074,199.2,1094,190.5,1103,194.1,1125,193.3,1145,194.0,1153,195.3,1176,199.2,1195,192.0,1205,190.0,1227,191.1,1246,193.7,1254,198.6,1277,193.0,1296,190.9,1306,194.5,1328,195.6,1347,190.6,1356,198.8,1378,191.6,1397,196.7,1407,194.0,1430,190.1,1448,196.9,1457,198.4,1480,192.0,1499,195.5,1508,198.0,1531,194.0,1549,193.3,1558,196.3,1582,197.9,1600,195.3,1609,197.6,1632,194.5,1651,192.0,1659,193.0,1683,194.0,1701,192.4,1710,193.2,1733,192.5,1752,196.6,1761,191.3,1785,195.2,1804,197.8,1812,193.6,1834,199.5,1855,191.1,1863,197.7,1886,198.8,1905,193.8,1914,196.3,1936,198.7,1957,194.4,1965,193.9,1987,196.6,
11,202.5,20,203.2,43,202.4,67,209.8,75,205.0,96,206.5,118,204.9,124,209.5,149,208.8,168,206.2,177,203.4,199,202.8,221,201.8,228,209.9,251,207.0,272,207.7,279,203.3,300,202.7,323,206.1,331,207.1,352,207.8,373,203.9,380,202.8,404,200.3,425,204.9,432,204.6,454,205.0,476,201.4,482,203.4,507,205.5,526,208.8,535,209.7,556,200.7,578,201.9,585,204.2,608,205.8,629,206.3,636,209.8,658,207.7,680,202.7,688,205.4,709,207.1,732,200.9,738,206.2,761,209.5,781,203.7,790,204.1,811,205.2,834,201.1,840,201.5,862,201.3,884,206.8,891,203.5,912,200.6,935,202.7,943,205.2,964,206.0,986,202.3,993,202.6,1014,204.8,1036,204.7,1044,202.7,1066,200.3,1087,209.2,1095,200.7,1117,206.4,1139,203.1,1145,200.0,1168,205.9,1189,205.8,1196,204.1,1219,201.6,1240,206.1,1248,202.0,1270,205.4,1291,205.2,1298,209.7,1321,200.3,1343,200.2,1350,203.6,1371,204.7,1393,202.5,1401,204.9,1422,202.9,1444,206.6,1451,206.9,1474,203.8,1495,201.1,1502,205.1,1525,203.7,1546,203.2,1553,202.7,1575,205.3,1596,206.4,1604,205.0,1627,209.8,1648,208.8,1655,209.0,1677,203.1,1698,203.6,1707,200.2,1728,200.5,1750,207.2,1757,204.8,1779,201.7,1801,206.5,1808,208.5,1829,201.1,1851,208.0,1858,206.3,1880,200.3,1902,206.4,1909,204.2,1931,208.1,1953,202.3,1961,201.4,1982,209.6,1998,205.5,
16,210.7,25,210.4,49,217.5,68,211.0,78,212.5,100,214.4,122,216.5,129,210.1,153,211.7,172,212.7,181,212.1,203,211.5,227,215.5,234,211.9,256,214.8,276,216.6,285,218.5,307,210.8,329,210.0,337,213.6,359,218.5,380,213.2,388,212.8,409,211.8,431,213.1,440,215.2,461,211.9,482,216.0,491,210.3,513,217.3,534,215.6,543,212.5,565,212.7,586,219.4,594,214.9,615,215.1,638,215.8,646,212.8,667,214.1,689,218.8,697,212.9,720,214.7,740,218.7,748,216.1,770,210.8,792,215.2,800,216.3,821,219.8,843,211.3,852,219.5,873,215.9,895,219.0,903,210.6,924,217.3,947,217.6,954,214.8,976,212.9,997,212.2,1005,214.4,1028,213.7,1049,215.2,1057,218.7,1078,211.8,1101,214.6,1108,212.4,1130,215.7,1152,218.0,1159,213.6,1181,211.9,1203,212.9,1210,218.1,1233,219.7,1254,211.3,1262,219.9,1283,211.4,1306,217.5,1313,216.4,1335,214.8,1357,218.2,1365,216.2,1386,216.0,1408,213.9,1416,210.3,1437,213.8,1459,211.4,1467,214.1,1489,218.2,1511,213.2,1518,216.2,1540,215.1,1562,215.0,1570,219.7,1592,214.8,1613,212.7,1621,219.8,1643,217.7,1665,217.9,1673,219.6,1694,214.3,1716,217.3,1724,210.8,1746,219.9,1768,217.0,1775,213.8,1797,218.8,1819,216.7,1827,217.8,1849,212.2,1870,217.1,1878,213.8,1899,213.6,1922,210.5,1930,217.7,1951,212.9,1973,217.8,1981,218.2,
3,224.1,27,222.5,34,226.1,56,221.9,81,220.7,85,221.7,104,226.6,131,223.9,139,224.6,160,225.0,178,227.0,189,226.3,215,223.0,235,224.5,240,222.7,266,229.5,286,224.6,291,226.1,315,228.5,334,225.0,345,229.6,370,226.6,390,226.1,396,228.5,417,226.6,442,224.7,451,220.9,471,227.1,490,221.3,500,224.4,525,224.7,546,224.0,549,221.6,575,220.7,594,220.4,604,226.2,630,226.2,650,221.5,655,226.8,678,220.7,702,221.7,710,224.8,731,221.8,750,227.7,760,228.4,786,224.3,806,227.1,809,224.3,835,226.9,853,228.8,864,222.1,890,228.5,910,225.9,914,226.7,939,220.9,959,225.9,968,221.0,994,222.5,1014,229.6,1018,228.6,1043,222.0,1062,220.2,1072,223.5,1098,223.7,1118,221.8,1121,225.8,1147,228.7,1166,224.8,1176,225.6,1202,229.6,1222,225.2,1226,222.0,1251,220.0,1270,225.0,1280,223.1,1306,221.7,1326,223.4,1330,223.9,1355,222.0,1374,227.3,1384,222.1,1410,221.3,1430,229.0,1434,228.0,1459,223.2,1478,229.3,1488,226.3,1514,224.4,1534,227.9,1537,227.2,1563,227.3,1582,225.5,1592,229.5,1618,225.2,1638,227.7,1641,223.4,1667,229.0,1686,227.1,1696,227.8,1722,223.7,1742,229.3,1745,224.2,1771,221.6,1790,223.7,1800,220.1,1826,222.0,1846,225.0,1849,220.5,1875,224.5,1894,221.3,1904,222.6,1930,223.8,1950,223.5,1953,224.4,1979,220.0,1996,220.1,
6,238.6,13,233.2,40,233.9,52,239.1,77,234.9,101,230.7,109,230.5,120,234.7,146,239.7,167,237.8,171,230.5,198,236.6,218,239.7,226,238.5,246,233.3,270,235.8,283,230.4,292,238.9,319,236.6,333,239.0,348,236.2,366,239.5,385,231.1,401,239.4,410,233.2,432,234.7,458,233.0,463,239.9,487,235.8,499,237.6,520,235.5,541,232.3,552,236.8,561,231.2,589,238.5,606,239.0,611,234.1,639,233.8,652,233.2,675,234.1,683,231.6,704,230.7,727,232.2,735,236.0,760,232.9,773,239.8,797,233.3,805,230.5,826,233.5,849,233.7,856,230.8,880,237.6,892,231.3,913,238.9,931,233.9,941,236.3,963,239.1,983,237.7,996,239.5,1005,237.4,1029,235.4,1045,230.1,1062,236.1,1081,233.7,1090,232.2,1113,233.6,1134,231.8,1141,237.8,1165,239.3,1179,236.5,1194,232.6,1215,230.5,1226,233.8,1249,231.5,1268,235.8,1277,234.1,1303,235.8,1315,237.1,1338,238.6,1352,239.2,1361,235.5,1389,233.8,1402,236.0,1421,236.1,1441,236.4,1449,237.7,1476,239.8,1487,233.4,1510,230.2,1524,235.4,1543,233.5,1567,231.2,1574,238.4,1597,233.9,1615,236.1,1630,232.9,1650,234.6,1662,230.3,1684,235.2,1704,239.1,1711,233.3,1739,232.5,1753,239.4,1769,232.7,1790,239.4,1797,239.0,1822,234.3,1840,233.7,1848,232.9,1873,239.0,1887,238.5,1907,237.3,1925,231.5,1939,238.0,1960,232.9,1976,230.9,1988,235.8,
2,246.3,24,241.3,37,248.2,46,246.8,69,243.2,91,249.1,98,244.7,118,247.1,138,241.6,156,243.9,165,246.3,190,243.7,205,240.9,223,242.4,238,240.0,259,243.1,276,246.8,286,249.4,310,245.8,322,246.3,344,246.0,356,246.0,378,246.4,392,244.4,413,242.8,427,248.1,436,240.9,461,247.5,472,246.6,496,245.9,509,243.3,530,244.4,549,246.1,557,242.8,583,244.7,596,245.6,616,244.8,631,242.3,649,243.7,668,248.6,676,247.8,701,243.1,713,246.5,737,242.7,748,241.2,770,240.1,786,249.0,799,249.1,818,244.5,834,246.4,857,248.5,866,246.6,890,249.2,903,243.4,925,246.0,936,243.4,959,248.6,970,241.0,993,244.5,1004,244.3,1028,242.6,1039,246.4,1061,248.2,1075,241.3,1094,243.9,1112,243.6,1122,240.7,1147,242.6,1158,240.2,1182,244.9,1191,241.4,1215,241.2,1229,247.3,1248,247.2,1263,244.5,1272,248.7,1298,240.0,1310,246.6,1333,240.6,1344,243.1,1366,245.5,1381,248.8,1400,241.7,1417,244.8,1428,248.1,1452,245.2,1463,240.9,1487,242.0,1498,249.6,1520,242.8,1533,242.9,1556,242.5,1567,244.0,1590,249.1,1604,247.1,1622,245.3,1640,246.4,1650,243.6,1675,247.8,1686,249.2,1710,245.9,1721,240.3,1744,246.0,1757,240.1,1777,241.3,1793,243.0,1803,245.3,1828,240.5,1839,244.8,1862,248.2,1873,240.4,1897,246.6,1909,245.2,1930,241.3,1945,248.4,1964,241.4,1981,246.9,1994,245.1
];

// ---- build series data ----
const clutter=[];
for(let i=0;i+1<clutterXY.length;i+=2) clutter.push([clutterXY[i],clutterXY[i+1]]);
const T=tA.concat(tB,tC);
function track(a,b,c){const v=a.concat(b,c);const out=[];for(let i=0;i<Math.min(v.length,T.length);i++){if(v[i]!=null)out.push([T[i],v[i]]);}return out;}
const tracks=[
  {color:'#d98000',data:track(orangeA,orangeB,orangeC)},
  {color:'#00ffff',data:track(cyanA,cyanB,cyanC)},
  {color:'#0000ff',data:track(blueA,blueB,blueC)},
  {color:'#ff00ff',data:track(magentaA,magentaB,magentaC)}
];
const boxData=[[zoomBoxX[0],zoomBoxY[1]],[zoomBoxX[1],zoomBoxY[1]],[zoomBoxX[1],zoomBoxY[0]],[zoomBoxX[0],zoomBoxY[0]],[zoomBoxX[0],zoomBoxY[1]]];

const F='"Liberation Sans", Arial, Helvetica, sans-serif';
const plain=v=>String(v);
function ax(o){
  return Object.assign({type:'value',axisLine:{show:false,onZero:false},axisTick:{show:false},axisLabel:{show:false},splitLine:{show:false}},o);
}
const mainGrid='#a8a8a8', insetGrid='#6e6e6e';
const border=(w)=>({show:true,onZero:false,lineStyle:{color:'#000',width:w}});
const xAxes=[
  ax({gridIndex:0,min:0,max:2000,position:'bottom',z:0,
      axisTick:{show:false,customValues:xTicks},
      axisLabel:{show:true,customValues:xTicks,formatter:plain,fontSize:12,color:'#000',fontFamily:F,margin:6},
      splitLine:{show:true,lineStyle:{color:mainGrid,width:1,type:[1,3]}},
      name:'Time (s)',nameLocation:'middle',nameGap:20,nameMoveOverlap:false,nameTextStyle:{fontSize:14.5,color:'#000',fontFamily:F}}),
  ax({gridIndex:0,min:0,max:2000,position:'bottom',z:5,axisLine:border(1),
      axisTick:{show:true,inside:true,length:5,customValues:xTicks,lineStyle:{color:'#000'}}}),
  ax({gridIndex:0,min:0,max:2000,position:'top',z:5,axisLine:border(1),
      axisTick:{show:true,inside:true,length:5,customValues:xTicks,lineStyle:{color:'#000'}}}),
  ax({gridIndex:1,min:insetX[0],max:insetX[1],position:'bottom',z:5,
      axisTick:{show:false,customValues:insetXTicks},
      splitLine:{show:true,lineStyle:{color:insetGrid,width:1,type:[1,3]}}}),
  ax({gridIndex:1,min:insetX[0],max:insetX[1],position:'bottom',z:8,axisLine:border(1.5),
      axisTick:{show:true,inside:true,length:3,customValues:insetXTicks,lineStyle:{color:'#000'}}}),
  ax({gridIndex:1,min:insetX[0],max:insetX[1],position:'top',z:8,axisLine:border(1.5),
      axisTick:{show:true,inside:true,length:3,customValues:insetXTicks,lineStyle:{color:'#000'}}})
];
const yAxes=[
  ax({gridIndex:0,min:130,max:250,position:'left',z:0,
      axisTick:{show:false,customValues:yTicks},
      axisLabel:{show:true,customValues:yTicks,formatter:plain,fontSize:12,color:'#000',fontFamily:F,margin:4},
      splitLine:{show:true,lineStyle:{color:mainGrid,width:1,type:[1,3]}},
      name:'Bearing (deg)',nameLocation:'middle',nameGap:28,nameMoveOverlap:false,nameTextStyle:{fontSize:14.5,color:'#000',fontFamily:F}}),
  ax({gridIndex:0,min:130,max:250,position:'left',z:5,axisLine:border(1),
      axisTick:{show:true,inside:true,length:5,customValues:yTicks,lineStyle:{color:'#000'}}}),
  ax({gridIndex:0,min:130,max:250,position:'right',z:5,axisLine:border(1),
      axisTick:{show:true,inside:true,length:5,customValues:yTicks,lineStyle:{color:'#000'}}}),
  ax({gridIndex:1,min:insetY[0],max:insetY[1],position:'left',z:5,
      axisTick:{show:false,customValues:insetYTicks},
      splitLine:{show:true,lineStyle:{color:insetGrid,width:1,type:[1,3]}}}),
  ax({gridIndex:1,min:insetY[0],max:insetY[1],position:'left',z:8,axisLine:border(1.5),
      axisTick:{show:true,inside:true,length:3,customValues:insetYTicks,lineStyle:{color:'#000'}}}),
  ax({gridIndex:1,min:insetY[0],max:insetY[1],position:'right',z:8,axisLine:border(1.5),
      axisTick:{show:true,inside:true,length:3,customValues:insetYTicks,lineStyle:{color:'#000'}}})
];

const series=[];
series.push({type:'scatter',xAxisIndex:0,yAxisIndex:0,data:clutter,symbol:'circle',symbolSize:7,itemStyle:{color:'#008000',opacity:1},z:2,silent:true,animation:false});
series.push({type:'line',xAxisIndex:0,yAxisIndex:0,data:boxData,symbol:'none',lineStyle:{color:'#000',width:1},z:4,silent:true,animation:false});
tracks.forEach(t=>series.push({type:'scatter',xAxisIndex:0,yAxisIndex:0,data:t.data,symbol:'circle',symbolSize:7,itemStyle:{color:t.color,opacity:1},z:3,silent:true,animation:false}));
series.push({type:'scatter',xAxisIndex:3,yAxisIndex:3,data:clutter,symbol:'circle',symbolSize:7,itemStyle:{color:'#008000',opacity:1},z:6,clip:true,silent:true,animation:false});
tracks.forEach(t=>series.push({type:'scatter',xAxisIndex:3,yAxisIndex:3,data:t.data,symbol:'circle',symbolSize:7,itemStyle:{color:t.color,opacity:1},z:6,clip:true,silent:true,animation:false}));

const chart=echarts.init(document.getElementById('c'),null,{renderer:'canvas'});
chart.setOption({
  animation:false,
  backgroundColor:'#ffffff',
  grid:[
    {left:56,right:16,top:10,bottom:33,containLabel:false,outerBoundsMode:'none'},
    {left:225,top:236,width:290,height:117,show:true,backgroundColor:'#cccccc',borderWidth:0,z:5,containLabel:false,outerBoundsMode:'none'}
  ],
  xAxis:xAxes,
  yAxis:yAxes,
  series:series
});
const a1=chart.convertToPixel({xAxisIndex:0,yAxisIndex:0},[zoomBoxX[0],zoomBoxY[0]]);
const a2=chart.convertToPixel({xAxisIndex:0,yAxisIndex:0},[zoomBoxX[1],zoomBoxY[0]]);
const b1=chart.convertToPixel({xAxisIndex:3,yAxisIndex:3},[insetX[0],insetY[1]]);
const b2=chart.convertToPixel({xAxisIndex:3,yAxisIndex:3},[insetX[1],insetY[1]]);
chart.setOption({graphic:[
  {type:'line',z:20,silent:true,shape:{x1:a1[0],y1:a1[1],x2:b1[0],y2:b1[1]},style:{stroke:'#000',lineWidth:1}},
  {type:'line',z:20,silent:true,shape:{x1:a2[0],y1:a2[1],x2:b2[0],y2:b2[1]},style:{stroke:'#000',lineWidth:1}}
]});
</script>
</body></html>
